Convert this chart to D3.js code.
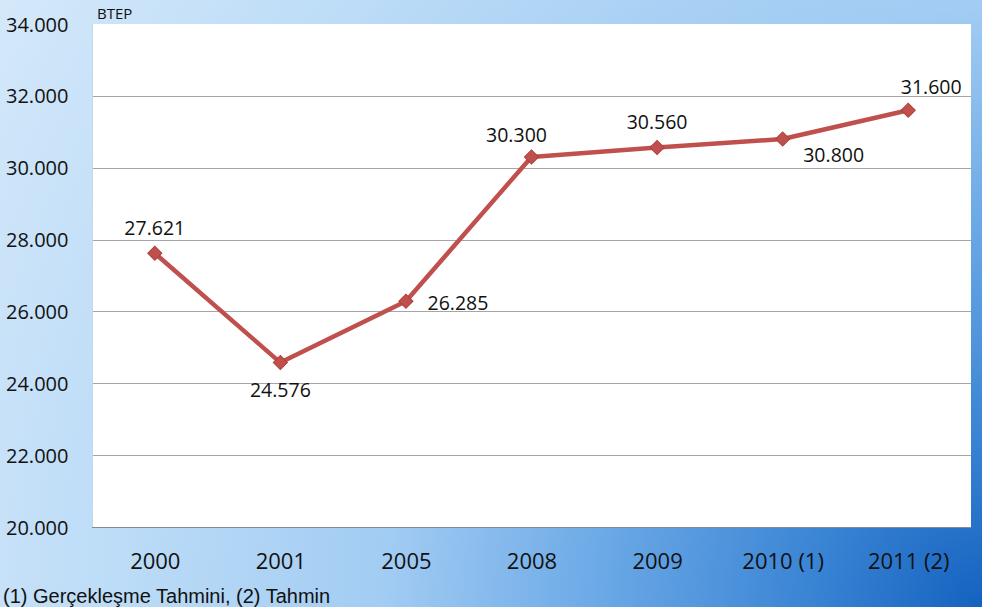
<!DOCTYPE html>
<html><head><meta charset="utf-8">
<script src="https://cdn.jsdelivr.net/npm/d3@7"></script>
<style>html,body{margin:0;padding:0;overflow:hidden;}</style>
</head><body>
<svg id="chart" width="982" height="607"></svg>
<script>
const categories = ["2000","2001","2005","2008","2009","2010 (1)","2011 (2)"];
const values = [27621, 24576, 26285, 30300, 30560, 30800, 31600];
const labelPos = ["above","below","right","aboveLeft","above","belowRight","aboveRight"];
const yTicks = [20000,22000,24000,26000,28000,30000,32000,34000];
const unitLabel = "BTEP";
const footnote = "(1) Gerçekleşme Tahmini, (2) Tahmin";

const W = 982, H = 607;
const m = {left:92, right:11, top:24, bottom:80};
const svg = d3.select("#chart");
const defs = svg.append("defs");
const g1 = defs.append("radialGradient").attr("id","bg").attr("gradientUnits","userSpaceOnUse")
  .attr("cx",982).attr("cy",607).attr("r",1150);
[[0,"#1462c0"],[0.15,"#3a84d4"],[0.33,"#6aa8e6"],[0.52,"#a2ccf3"],[0.75,"#bcdcf7"],[1,"#d4e8fa"]]
  .forEach(([o,c])=>g1.append("stop").attr("offset",o).attr("stop-color",c));
svg.append("rect").attr("width",W).attr("height",H).attr("fill","url(#bg)");

const fmtV = d => { const s = String(d); return s.slice(0,s.length-3)+"."+s.slice(-3); };

const x = d3.scalePoint().domain(categories).range([m.left, W-m.right]).padding(0.5);
const y = d3.scaleLinear().domain([20000,34000]).range([H-m.bottom, m.top]);

svg.append("rect").attr("x",m.left).attr("y",m.top).attr("width",W-m.right-m.left).attr("height",H-m.bottom-m.top).attr("fill","#fff");

svg.append("g").selectAll("line").data(yTicks.slice(1,-1)).join("line")
  .attr("x1",m.left).attr("x2",W-m.right).attr("y1",d=>Math.round(y(d))+0.5).attr("y2",d=>Math.round(y(d))+0.5)
  .attr("stroke","#a6a6a6").attr("stroke-width",1);
svg.append("line").attr("x1",m.left).attr("x2",W-m.right).attr("y1",y(20000)+0.5).attr("y2",y(20000)+0.5).attr("stroke","#8a8a8a");
svg.append("line").attr("x1",m.left+0.5).attr("x2",m.left+0.5).attr("y1",m.top).attr("y2",y(20000)).attr("stroke","#c8d8e8");

const font = "'Open Sans', sans-serif";
const yAxis = d3.axisLeft(y).tickValues(yTicks).tickSize(0).tickPadding(0).tickFormat(fmtV);
const ya = svg.append("g").attr("transform",`translate(${m.left},0)`).call(yAxis);
ya.select(".domain").remove();
ya.selectAll("text").attr("x", 6-m.left).attr("text-anchor","start").attr("dy","0.35em")
  .style("font-family",font).style("font-size","20px").attr("fill","#111");

const xAxis = d3.axisBottom(x).tickSize(0).tickPadding(0);
const xa = svg.append("g").attr("transform",`translate(0,${y(20000)})`).call(xAxis);
xa.select(".domain").remove();
xa.selectAll("text").attr("y",34).attr("dy","0.35em")
  .style("font-family",font).style("font-size","22px").attr("fill","#111");

const line = d3.line().x((d,i)=>x(categories[i])).y(d=>y(d));
svg.append("path").datum(values).attr("d",line).attr("fill","none").attr("stroke","#c0504d").attr("stroke-width",4.5).attr("stroke-linejoin","round");
svg.append("g").selectAll("path").data(values).join("path")
  .attr("d", d3.symbol(d3.symbolSquare, 100))
  .attr("transform",(d,i)=>`translate(${x(categories[i])},${y(d)}) rotate(45)`)
  .attr("fill","#c0504d").attr("stroke","#b0403d").attr("stroke-width",1);

const off = {above:[0,-25,"middle"], below:[0,28,"middle"], right:[52,2,"middle"], aboveLeft:[-15,-22,"middle"], belowRight:[51,16,"middle"], aboveRight:[23,-23,"middle"]};
svg.append("g").selectAll("text").data(values).join("text")
  .attr("x",(d,i)=>x(categories[i])+off[labelPos[i]][0])
  .attr("y",(d,i)=>y(d)+off[labelPos[i]][1])
  .attr("dy","0.35em").attr("text-anchor",(d,i)=>off[labelPos[i]][2])
  .style("font-family",font).style("font-size","19.5px").attr("fill","#111")
  .text(fmtV);

svg.append("text").attr("x",97).attr("y",19).text(unitLabel)
  .style("font-family",font).style("font-size","15px").attr("fill","#111");
svg.append("text").attr("x",3).attr("y",603).text(footnote)
  .style("font-family","'Liberation Sans', Arial, sans-serif").style("font-size","20px").attr("fill","#111");
</script>
</body></html>
